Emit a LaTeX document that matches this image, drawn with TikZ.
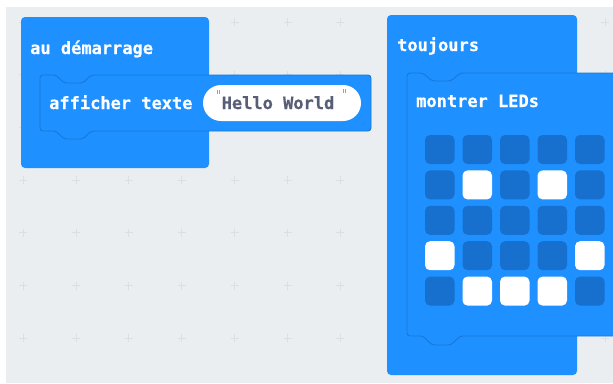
\documentclass[tikz,border=0pt]{standalone}
\usepackage{fontspec}
\newfontfamily\blockfont[FakeBold=0.6]{DejaVu Sans Mono Bold}
\definecolor{bgcol}{RGB}{234,238,240}
\definecolor{gridcol}{RGB}{218,223,227}
\definecolor{blockblue}{RGB}{30,144,255}
\definecolor{edgeblue}{RGB}{24,120,218}
\definecolor{ledoff}{RGB}{24,112,206}
\definecolor{strtext}{RGB}{87,94,117}
\definecolor{quotecol}{RGB}{196,150,128}
\tikzset{
  blocktext/.style={anchor=base west, inner sep=0pt, text=white, font=\blockfont\fontsize{17}{19}\selectfont},
  strtextstyle/.style={anchor=base, inner sep=0pt, text=strtext, font=\blockfont\fontsize{17}{19}\selectfont},
  outerblock/.style={fill=blockblue, rounded corners=4pt},
  innerblock/.style={fill=blockblue, draw=edgeblue, line width=0.9pt, rounded corners=3pt},
  ledcell/.style={rounded corners=5pt},
  gridmark/.style={draw=gridcol, line width=0.8pt},
  quotemark/.style={fill=quotecol}
}
\begin{document}
\begin{tikzpicture}[x=1pt,y=-1pt]
\useasboundingbox (0,0) rectangle (613,383);
\clip (0,0) rectangle (613,383);
% background
\fill[white] (0,0) rectangle (613,383);
\fill[bgcol] (6,7) rectangle (613,383);
% grid marks
\foreach \i in {0,...,11} {
  \foreach \j in {0,...,6} {
    \pgfmathsetmacro{\gx}{23+52.9*\i}
    \pgfmathsetmacro{\gy}{22+52.7*\j}
    \draw[gridmark] (\gx-4,\gy) -- (\gx+4,\gy) (\gx,\gy-4) -- (\gx,\gy+4);
  }
}
% ---- block "au démarrage"
\fill[outerblock] (21,17) rectangle (209,168);
\node[blocktext] (start) at (30,54) {au démarrage};
\draw[innerblock] (40,75) -- (56,75) -- (64,83) -- (83,83) -- (91,75) -- (371,75)
  -- (371,131) -- (91,131) -- (83,139) -- (64,139) -- (56,131) -- (40,131) -- cycle;
\node[blocktext] (show) at (49,109) {afficher texte};
\fill[white, rounded corners=18pt] (203,85) rectangle (361,121);
\node[strtextstyle] (hello) at (278,109) {Hello World};
\fill[quotemark] (216.7,90) rectangle (217.9,94);
\fill[quotemark] (218.8,90) rectangle (220,94);
\fill[quotemark] (342.7,89) rectangle (343.9,93);
\fill[quotemark] (344.8,89) rectangle (346,93);
% ---- block "toujours"
\fill[outerblock] (387,15) rectangle (577,375);
\node[blocktext] (forever) at (397,51) {toujours};
\draw[innerblock] (407,73) -- (423,73) -- (432,81) -- (451,81) -- (460,73) -- (625,73)
  -- (625,336) -- (460,336) -- (451,345) -- (432,345) -- (423,336) -- (407,336) -- cycle;
\node[blocktext] (leds) at (416,107) {montrer LEDs};
% LED matrix
\foreach \r/\row in {0/{0,0,0,0,0},1/{0,1,0,1,0},2/{0,0,0,0,0},3/{1,0,0,0,1},4/{0,1,1,1,0}} {
  \foreach \v [count=\c from 0] in \row {
    \pgfmathsetmacro{\lx}{425+37.5*\c}
    \pgfmathsetmacro{\ly}{135+35.4*\r}
    \ifnum\v=1
      \fill[ledcell, white] (\lx,\ly) rectangle ++(29.5,29);
    \else
      \fill[ledcell, ledoff] (\lx,\ly) rectangle ++(29.5,29);
    \fi
  }
}
\end{tikzpicture}
\end{document}
